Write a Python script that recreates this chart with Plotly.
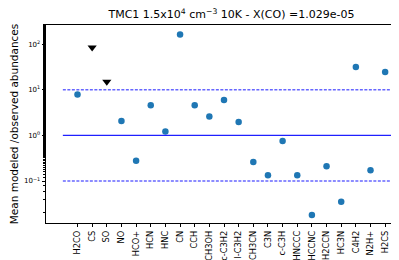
import plotly.graph_objects as go

categories = ["H2CO", "CS", "SO", "NO", "HCO+", "HCN", "HNC", "CN", "CCH", "CH3OH",
              "c-C3H2", "l-C3H2", "CH3CN", "C3N", "c-C3H", "HNCCC", "HCCNC", "H2CCN",
              "HC3N", "C4H2", "N2H+", "H2CS"]
ratio = [7.9, None, None, 2.06, 0.28, 4.6, 1.22, 163, 4.6, 2.6,
         6.0, 1.96, 0.26, 0.134, 0.75, 0.134, 0.018, 0.21,
         0.035, 31.6, 0.173, 24.6]
limit_cats = ["CS", "SO"]
limit_vals = [85, 15]
ref_levels = [0.1, 1, 10]
ytick_vals = [0.1, 1, 10, 100]
ytick_text = ["10<sup>−1</sup>", "10<sup>0</sup>", "10<sup>1</sup>", "10<sup>2</sup>"]

fig = go.Figure()
cx = [c for c, v in zip(categories, ratio) if v is not None]
cy = [v for v in ratio if v is not None]
fig.add_trace(go.Scatter(x=cx, y=cy, mode="markers",
                         marker=dict(color="#1f77b4", size=6.5), showlegend=False))
fig.add_trace(go.Scatter(x=limit_cats, y=limit_vals, mode="markers",
                         marker=dict(color="black", size=8, symbol="triangle-down"), showlegend=False))

for lv in ref_levels:
    fig.add_shape(type="line", xref="x", yref="y", x0=-1, x1=len(categories), y0=lv, y1=lv,
                  line=dict(color="#2020ff" if lv == 1 else "rgba(0,0,255,0.6)",
                            width=1.4, dash="solid" if lv == 1 else "3px,1.5px"))

fig.update_layout(
    width=399, height=260,
    margin=dict(l=38, r=5, t=17, b=45),
    paper_bgcolor="white", plot_bgcolor="white",
    font=dict(family="DejaVu Sans", color="black"),
    title=dict(text="TMC1 1.5x10<sup>4</sup> cm<sup>−3</sup> 10K - X(CO) =1.029e-05",
               x=0.56, xanchor="center", y=0.99, yanchor="top", font=dict(size=11)),
)
fig.update_xaxes(type="category", categoryorder="array", categoryarray=categories,
                 range=[-2.15, len(categories) + 0.15], tickangle=-90,
                 tickvals=categories, ticktext=categories,
                 showline=True, linecolor="black", linewidth=0.8, mirror=True,
                 ticks="outside", ticklen=3.5, tickcolor="black", showgrid=False,
                 tickfont=dict(size=8.3), automargin=False)
fig.update_yaxes(type="log", range=[-1.92, 2.42], tickvals=ytick_vals, ticktext=ytick_text,
                 showline=True, linecolor="black", linewidth=0.8, mirror=True,
                 ticks="outside", ticklen=3.5, tickcolor="black", showgrid=False,
                 tickfont=dict(size=7), automargin=False,
                 minor=dict(ticks="outside", ticklen=2, tickcolor="black", showgrid=False),
                 title=dict(text="Mean modeled /observed abundances", font=dict(size=10.5), standoff=5))

fig.write_html("out.html")
